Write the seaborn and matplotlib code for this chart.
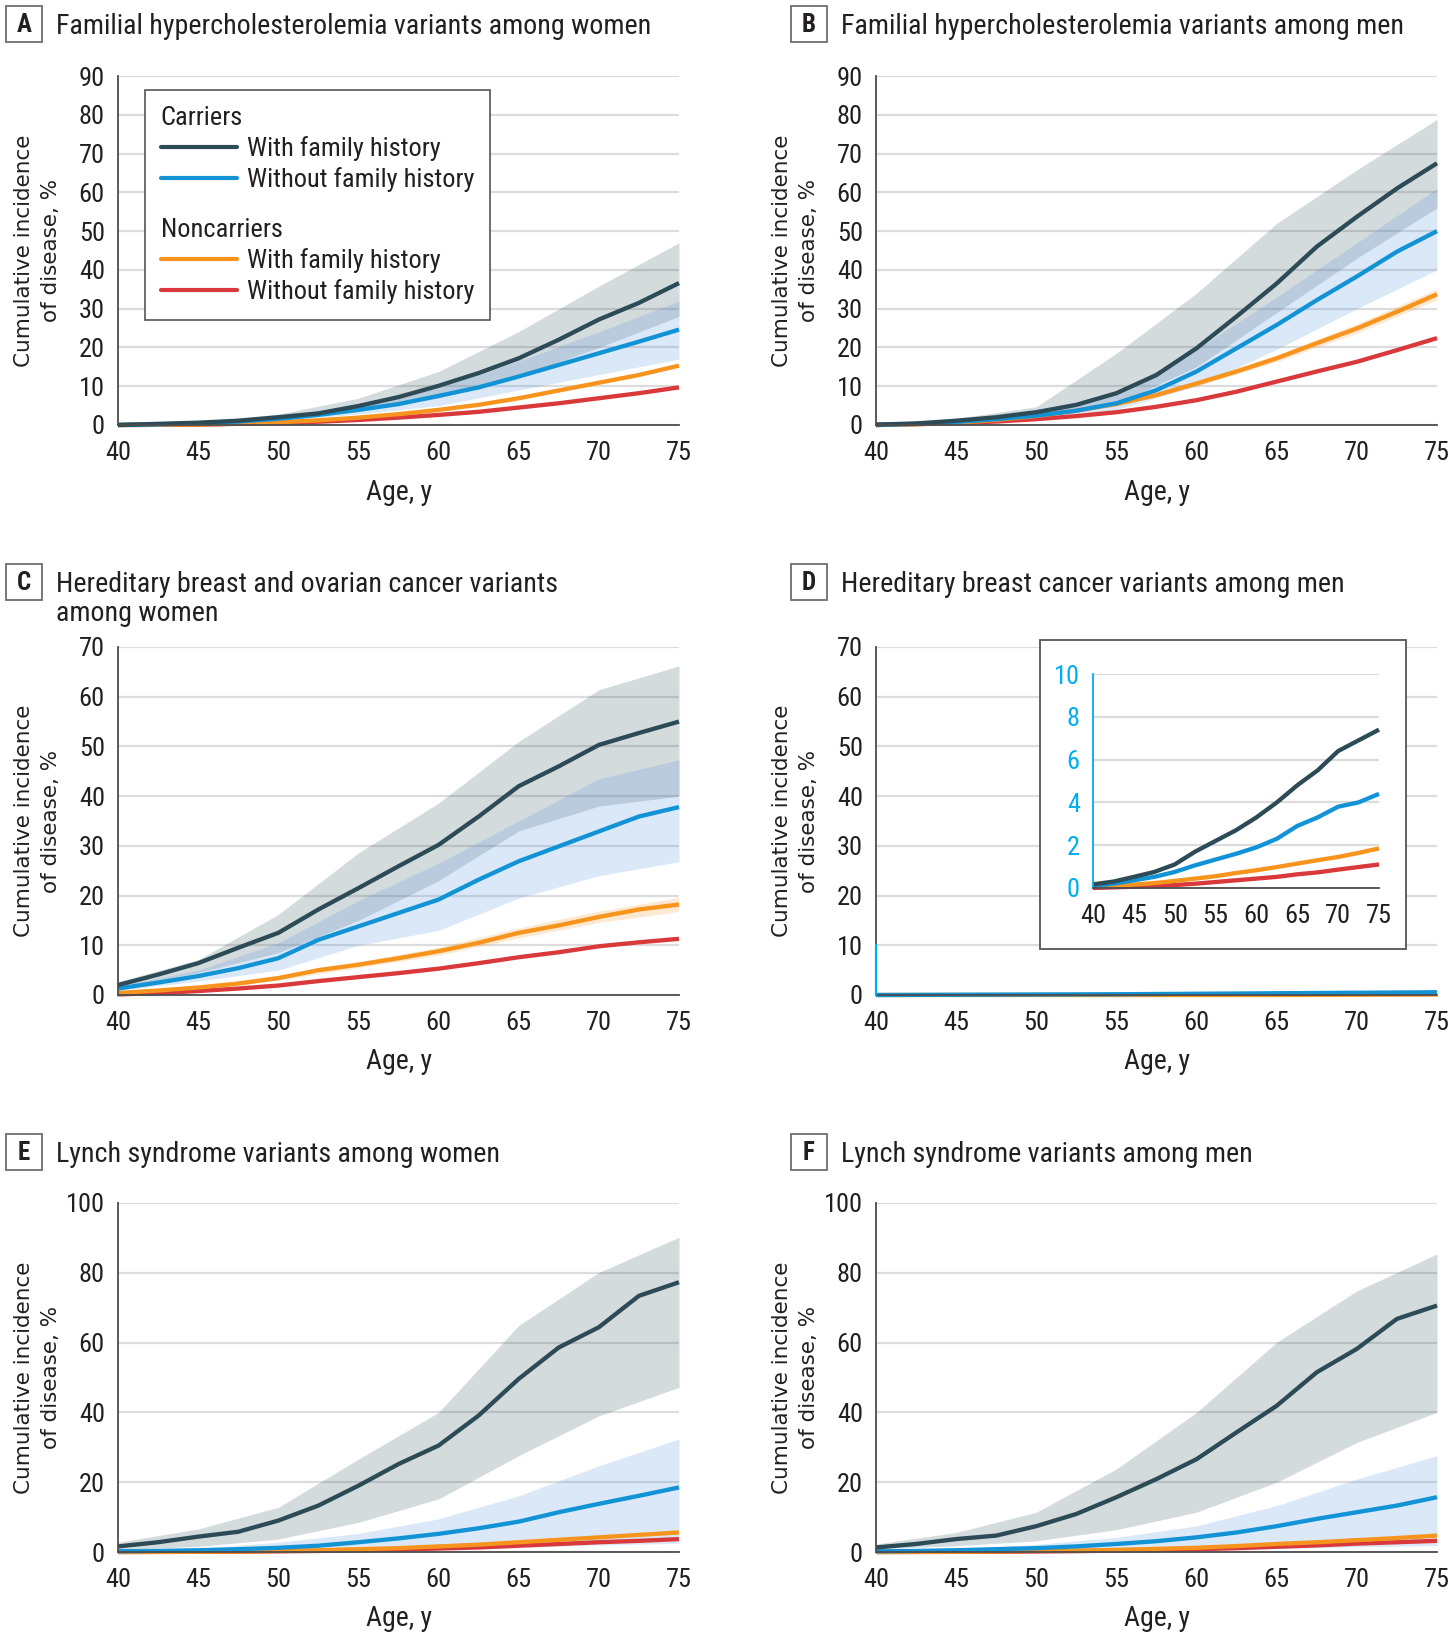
import matplotlib
matplotlib.use("Agg")
import matplotlib.pyplot as plt
from matplotlib import font_manager
from matplotlib.lines import Line2D
from matplotlib.patches import Rectangle
import seaborn as sns

W, H = 1455, 1638

AGES = [40, 42.5, 45, 47.5, 50, 52.5, 55, 57.5, 60, 62.5, 65, 67.5, 70, 72.5, 75]
BAND_AGES = [40, 45, 50, 55, 60, 65, 70, 75]

# A -- familial hypercholesterolemia, women
A_CAR_FH = [0, 0.3, 0.6, 1.1, 2.0, 3.0, 4.9, 7.2, 10.1, 13.4, 17.2, 22, 27.2, 31.5, 36.6]
A_CAR_NOFH = [0, 0.15, 0.4, 0.9, 1.6, 2.6, 3.9, 5.4, 7.5, 9.7, 12.5, 15.5, 18.5, 21.5, 24.6]
A_NON_FH = [0, 0.05, 0.15, 0.35, 0.7, 1.2, 1.9, 2.8, 3.9, 5.2, 6.9, 8.9, 10.9, 12.9, 15.3]
A_NON_NOFH = [0, 0.03, 0.1, 0.3, 0.5, 0.85, 1.3, 1.9, 2.6, 3.4, 4.5, 5.6, 6.9, 8.2, 9.7]
A_CAR_FH_LO = [0, 0.4, 1.3, 3.5, 7, 12.5, 20, 28]
A_CAR_FH_HI = [0.1, 0.8, 2.8, 6.9, 13.8, 24.1, 35.8, 47]
A_CAR_NOFH_LO = [0, 0.3, 1.1, 2.8, 5, 9, 13, 17]
A_CAR_NOFH_HI = [0.05, 0.7, 2.2, 5, 9.5, 16.5, 24, 32]

# B -- familial hypercholesterolemia, men
B_CAR_FH = [0.1, 0.4, 1.1, 2.0, 3.3, 5.2, 8.2, 12.9, 19.8, 28, 36.5, 46, 53.7, 61, 67.5]
B_CAR_NOFH = [0, 0.3, 0.8, 1.5, 2.4, 3.7, 5.6, 9, 13.8, 19.8, 25.8, 32.2, 38.3, 44.7, 50]
B_NON_FH = [0, 0.2, 0.6, 1.3, 2.3, 3.7, 5.4, 7.7, 10.7, 13.8, 17.2, 21.1, 24.9, 29.2, 33.7]
B_NON_NOFH = [0, 0.2, 0.5, 0.9, 1.5, 2.3, 3.3, 4.7, 6.4, 8.6, 11.2, 13.8, 16.3, 19.3, 22.4]
B_CAR_FH_LO = [0, 0.6, 2, 5.5, 15, 29, 43, 56]
B_CAR_FH_HI = [0.2, 1.7, 4.7, 18.5, 34, 52, 65.8, 78.8]
B_CAR_NOFH_LO = [0, 0.5, 1.6, 4, 10, 19.5, 30, 40]
B_CAR_NOFH_HI = [0.1, 1, 3.3, 8.5, 19.5, 33, 47, 61]
B_NON_FH_LO = [0, 0.5, 2.1, 5, 10, 16.3, 23.7, 32.3]
B_NON_FH_HI = [0, 0.7, 2.5, 5.8, 11.4, 18.1, 26.1, 35.1]

# C -- hereditary breast and ovarian cancer, women
C_CAR_FH = [2.0, 4.1, 6.4, 9.5, 12.5, 17.2, 21.5, 25.9, 30.2, 35.9, 42, 46, 50.3, 52.7, 55.0]
C_CAR_NOFH = [1.3, 2.5, 3.8, 5.4, 7.4, 11.1, 13.8, 16.5, 19.2, 23.2, 26.9, 29.9, 32.9, 35.9, 37.8]
C_NON_FH = [0.4, 0.9, 1.5, 2.3, 3.4, 5.0, 6.1, 7.4, 8.8, 10.5, 12.5, 14.0, 15.7, 17.2, 18.2]
C_NON_NOFH = [0.1, 0.4, 0.8, 1.3, 1.9, 2.8, 3.6, 4.4, 5.3, 6.4, 7.6, 8.6, 9.8, 10.6, 11.3]
C_CAR_FH_LO = [1.5, 4.5, 8.5, 15, 23, 33, 38, 40]
C_CAR_FH_HI = [2.7, 7.1, 16.2, 28.6, 38.6, 51, 61.4, 66.2]
C_CAR_NOFH_LO = [0.9, 2.8, 5, 10, 13, 19.5, 24, 26.8]
C_CAR_NOFH_HI = [1.8, 5, 10.5, 19, 26.5, 35, 43.5, 47.3]
C_NON_FH_LO = [0.2, 1.2, 3.0, 5.5, 8.0, 11.5, 14.6, 16.8]
C_NON_FH_HI = [0.6, 1.8, 3.9, 6.7, 9.6, 13.5, 16.9, 19.6]

# D -- hereditary breast cancer, men (inset curves, 0-10 %)
D_CAR_FH = [0.17, 0.3, 0.52, 0.75, 1.1, 1.7, 2.2, 2.7, 3.3, 4.0, 4.8, 5.5, 6.4, 6.9, 7.4]
D_CAR_NOFH = [0.1, 0.2, 0.36, 0.52, 0.75, 1.06, 1.33, 1.6, 1.9, 2.3, 2.9, 3.3, 3.8, 4.0, 4.4]
D_NON_FH = [0.05, 0.09, 0.16, 0.23, 0.33, 0.44, 0.55, 0.7, 0.83, 0.98, 1.14, 1.3, 1.45, 1.64, 1.85]
D_NON_NOFH = [0, 0.03, 0.06, 0.09, 0.14, 0.2, 0.28, 0.36, 0.44, 0.52, 0.64, 0.73, 0.86, 0.98, 1.1]
# curves as they show on the 0-70 main axis
D_MAIN_NOFH = [0, 0.05, 0.1, 0.15, 0.25, 0.35, 0.45, 0.55]
D_MAIN_NON_FH = [0, 0, 0, 0, 0, 0, 0.05, 0.1]

# E -- Lynch syndrome, women
E_CAR_FH = [1.6, 2.8, 4.4, 5.8, 9.0, 13.3, 19, 25.2, 30.5, 39.1, 49.6, 58.6, 64.4, 73.4, 77.3]
E_CAR_NOFH = [0.2, 0.3, 0.5, 0.8, 1.2, 1.8, 2.8, 3.9, 5.2, 6.8, 8.7, 11.4, 13.8, 16.1, 18.5]
E_NON_FH = [0, 0.03, 0.08, 0.15, 0.3, 0.5, 0.8, 1.1, 1.6, 2.1, 2.8, 3.5, 4.2, 4.9, 5.6]
E_NON_NOFH = [0, 0.02, 0.05, 0.1, 0.2, 0.3, 0.5, 0.7, 1.0, 1.3, 1.8, 2.3, 2.8, 3.2, 3.7]
E_CAR_FH_LO = [0.7, 1.6, 3.7, 8.5, 15.2, 27.6, 39, 47.2]
E_CAR_FH_HI = [2.8, 6.6, 12.8, 26.6, 40, 64.9, 80.1, 90.2]
E_CAR_NOFH_LO = [0, 0.05, 0.2, 0.4, 0.8, 1.3, 2, 2.5]
E_CAR_NOFH_HI = [0.3, 1.1, 2.8, 5.3, 9.5, 16.1, 24.7, 32.4]

# F -- Lynch syndrome, men
F_CAR_FH = [1.3, 2.3, 3.7, 4.7, 7.4, 10.9, 15.7, 20.9, 26.6, 34.3, 41.9, 51.5, 58.2, 66.8, 70.6]
F_CAR_NOFH = [0.2, 0.3, 0.5, 0.8, 1.1, 1.6, 2.3, 3.1, 4.2, 5.6, 7.4, 9.5, 11.4, 13.3, 15.7]
F_NON_FH = [0, 0.03, 0.08, 0.15, 0.3, 0.4, 0.6, 0.9, 1.2, 1.7, 2.3, 2.8, 3.4, 4.0, 4.7]
F_NON_NOFH = [0, 0.01, 0.04, 0.08, 0.15, 0.25, 0.4, 0.55, 0.8, 1.1, 1.5, 1.9, 2.4, 2.8, 3.2]
F_CAR_FH_LO = [0.9, 1.8, 3.2, 6.4, 11.4, 20, 31.4, 40]
F_CAR_FH_HI = [2.3, 5.6, 11.4, 23.8, 40, 60.1, 74.8, 85.4]
F_CAR_NOFH_LO = [0, 0.05, 0.15, 0.3, 0.6, 1.0, 1.5, 1.8]
F_CAR_NOFH_HI = [0.3, 0.9, 2.2, 4.2, 7.5, 13.3, 20.9, 27.6]

DARK = "#2c4b57"
BLUE = "#1193d6"
BLUE_BAND = "#4f8fe0"
ORANGE = "#f7941d"
RED = "#d9393b"
CYAN = "#00aeef"
GRID = "#dcdcdc"
SPINE = "#4d4d4d"
TEXT = "#231f20"

TITLES = {
    "A": "Familial hypercholesterolemia variants among women",
    "B": "Familial hypercholesterolemia variants among men",
    "C": "Hereditary breast and ovarian cancer variants\namong women",
    "D": "Hereditary breast cancer variants among men",
    "E": "Lynch syndrome variants among women",
    "F": "Lynch syndrome variants among men",
}


def pick_narrow():
    """First installed condensed sans face; falls back to Roboto."""
    condensed = {f.name for f in font_manager.fontManager.ttflist
                 if str(f.stretch) == "condensed"
                 and "Serif" not in f.name and "Mono" not in f.name}
    for name in ["Liberation Sans Narrow", "Roboto Condensed", "Noto Sans Condensed",
                 "Open Sans Condensed", "Noto Sans", "DejaVu Sans Condensed",
                 "DejaVu Sans", "Liberation Sans", "Open Sans"]:
        if name in condensed:
            return name, "condensed"
    if condensed:
        return sorted(condensed)[0], "condensed"
    return "Roboto", "normal"


NARROW_NAME, NARROW_STRETCH = pick_narrow()
NARROW = [NARROW_NAME, "DejaVu Sans"]
REGULAR = ["DejaVu Sans"]
FS = 18 if NARROW_STRETCH == "condensed" else 16.5


def fig_rect(left, top, right, bottom):
    return [left / W, 1 - bottom / H, (right - left) / W, (bottom - top) / H]


def style_axes(ax, ymax, ystep, labels=True):
    ax.set_xlim(40, 75)
    ax.set_ylim(0, ymax)
    ax.set_xticks(range(40, 76, 5))
    ax.set_yticks(range(0, ymax + 1, ystep))
    ax.grid(axis="y", color=GRID, lw=1.6)
    ax.grid(axis="x", visible=False)
    ax.set_axisbelow(True)
    for s in ("top", "right"):
        ax.spines[s].set_visible(False)
    for s in ("left", "bottom"):
        ax.spines[s].set_color(SPINE)
        ax.spines[s].set_linewidth(1.3)
    ax.tick_params(length=6.5, width=1.2, color=SPINE, labelsize=FS + 1,
                   pad=3, labelcolor=TEXT)
    ax.tick_params(axis="x", pad=5)
    if labels:
        ax.set_ylabel("Cumulative incidence\nof disease, %", fontsize=15.5,
                      family=REGULAR, stretch="normal", linespacing=1.45, color=TEXT)
        ax.yaxis.label.set_va("center")
        ax.yaxis.set_label_coords(-0.144, 0.5)
        ax.set_xlabel("Age, y", fontsize=FS + 2, color=TEXT)
        ax.xaxis.label.set_va("center")
        ax.xaxis.set_label_coords(0.5, -67 / 349)


def draw_bands(ax, bands):
    for lo, hi, color in bands:
        ax.fill_between(BAND_AGES, lo, hi, color=color, alpha=0.2, lw=0)


def draw_lines(ax, curves, x=AGES, lw=3.1):
    # drawn bottom-up so the carrier curves sit on top
    for vals, color in curves:
        sns.lineplot(x=x, y=vals, color=color, lw=lw, ax=ax, clip_on=False,
                     solid_capstyle="butt")


def panel_label(fig, letter, x, y):
    fig.add_artist(Rectangle((x / W, 1 - (y + 36) / H), 36 / W, 36 / H,
                             transform=fig.transFigure, fill=False,
                             ec="#6d6e71", lw=1.3))
    fig.text((x + 18) / W, 1 - (y + 19) / H, letter, ha="center", va="center",
             fontsize=FS, weight="bold", color=TEXT)
    fig.text((x + 50) / W, 1 - (y + 7) / H, TITLES[letter], ha="left", va="top",
             fontsize=FS + 2.2, color=TEXT, linespacing=1.1)


def add_legend(ax):
    handles = [Line2D([], [], lw=0), Line2D([], [], color=DARK, lw=3),
               Line2D([], [], color=BLUE, lw=3), Line2D([], [], lw=0),
               Line2D([], [], lw=0), Line2D([], [], color=ORANGE, lw=3),
               Line2D([], [], color=RED, lw=3)]
    labels = ["Carriers", "With family history", "Without family history", " ",
              "Noncarriers", "With family history", "Without family history"]
    leg = ax.legend(handles, labels, loc="upper left", bbox_to_anchor=(0.048, 0.96),
                    borderaxespad=0, frameon=True, fancybox=False, edgecolor="#555",
                    framealpha=1, handlelength=2.9, handletextpad=0.35,
                    labelspacing=0.24, borderpad=0.6,
                    prop={"family": NARROW, "stretch": NARROW_STRETCH, "size": FS + 1})
    leg.get_frame().set_linewidth(1.2)
    for t in leg.get_texts():
        t.set_color(TEXT)
    rows = leg._legend_handle_box.get_children()[0].get_children()
    for i in (0, 3, 4):
        rows[i].get_children()[0].set_width(0)
        rows[i].sep = 0
    # the spacer row between the two groups is only a small gap
    rows[3].get_children()[0].height = 0
    leg.get_texts()[3].set_fontsize(9)


def main():
    sns.set_theme(style="white")
    plt.rcParams["font.family"] = NARROW
    plt.rcParams["font.stretch"] = NARROW_STRETCH
    fig = plt.figure(figsize=(W / 100, H / 100), dpi=100)

    cols = [118, 876]
    rows = [(76, 425), (647, 995), (1203, 1552)]

    def make_ax(r, c):
        return fig.add_axes(fig_rect(cols[c], rows[r][0], cols[c] + 561, rows[r][1]))

    # A
    ax = make_ax(0, 0)
    style_axes(ax, 90, 10)
    draw_bands(ax, [(A_CAR_FH_LO, A_CAR_FH_HI, DARK), (A_CAR_NOFH_LO, A_CAR_NOFH_HI, BLUE_BAND)])
    draw_lines(ax, [(A_NON_NOFH, RED), (A_NON_FH, ORANGE), (A_CAR_NOFH, BLUE), (A_CAR_FH, DARK)])
    add_legend(ax)

    # B
    ax = make_ax(0, 1)
    style_axes(ax, 90, 10)
    draw_bands(ax, [(B_CAR_FH_LO, B_CAR_FH_HI, DARK), (B_CAR_NOFH_LO, B_CAR_NOFH_HI, BLUE_BAND),
                    (B_NON_FH_LO, B_NON_FH_HI, ORANGE)])
    draw_lines(ax, [(B_NON_NOFH, RED), (B_NON_FH, ORANGE), (B_CAR_NOFH, BLUE), (B_CAR_FH, DARK)])

    # C
    ax = make_ax(1, 0)
    style_axes(ax, 70, 10)
    draw_bands(ax, [(C_CAR_FH_LO, C_CAR_FH_HI, DARK), (C_CAR_NOFH_LO, C_CAR_NOFH_HI, BLUE_BAND),
                    (C_NON_FH_LO, C_NON_FH_HI, ORANGE)])
    draw_lines(ax, [(C_NON_NOFH, RED), (C_NON_FH, ORANGE), (C_CAR_NOFH, BLUE), (C_CAR_FH, DARK)])

    # D main
    ax = make_ax(1, 1)
    style_axes(ax, 70, 10)
    draw_lines(ax, [(D_MAIN_NON_FH, ORANGE), (D_MAIN_NOFH, BLUE)], x=BAND_AGES)
    ax.axvline(40, ymin=0, ymax=10 / 70, color=CYAN, lw=1.6, clip_on=False, zorder=3)
    ax.yaxis.get_major_ticks()[1].tick1line.set_color(CYAN)

    # D inset
    fig.add_artist(Rectangle((1040 / W, 1 - 949 / H), 366 / W, 309 / H,
                             transform=fig.transFigure, fc="white", ec="#555",
                             lw=1.3, zorder=1))
    ins = fig.add_axes(fig_rect(1093, 674, 1379, 888))
    ins.set_zorder(2)
    ins.patch.set_alpha(0)
    style_axes(ins, 10, 2, labels=False)
    ins.spines["left"].set_color(CYAN)
    ins.tick_params(axis="y", color=CYAN, labelcolor=CYAN)
    draw_lines(ins, [(D_NON_NOFH, RED), (D_NON_FH, ORANGE), (D_CAR_NOFH, BLUE), (D_CAR_FH, DARK)])

    # E
    ax = make_ax(2, 0)
    style_axes(ax, 100, 20)
    draw_bands(ax, [(E_CAR_FH_LO, E_CAR_FH_HI, DARK), (E_CAR_NOFH_LO, E_CAR_NOFH_HI, BLUE_BAND)])
    draw_lines(ax, [(E_NON_NOFH, RED), (E_NON_FH, ORANGE), (E_CAR_NOFH, BLUE), (E_CAR_FH, DARK)])

    # F
    ax = make_ax(2, 1)
    style_axes(ax, 100, 20)
    draw_bands(ax, [(F_CAR_FH_LO, F_CAR_FH_HI, DARK), (F_CAR_NOFH_LO, F_CAR_NOFH_HI, BLUE_BAND)])
    draw_lines(ax, [(F_NON_NOFH, RED), (F_NON_FH, ORANGE), (F_CAR_NOFH, BLUE), (F_CAR_FH, DARK)])

    for letter, (x, y) in zip("ABCDEF", [(6, 6), (791, 6), (6, 564), (791, 564),
                                          (6, 1134), (791, 1134)]):
        panel_label(fig, letter, x, y)

    fig.savefig("out.png", dpi=100, facecolor="white")
    plt.close(fig)


if __name__ == "__main__":
    main()
